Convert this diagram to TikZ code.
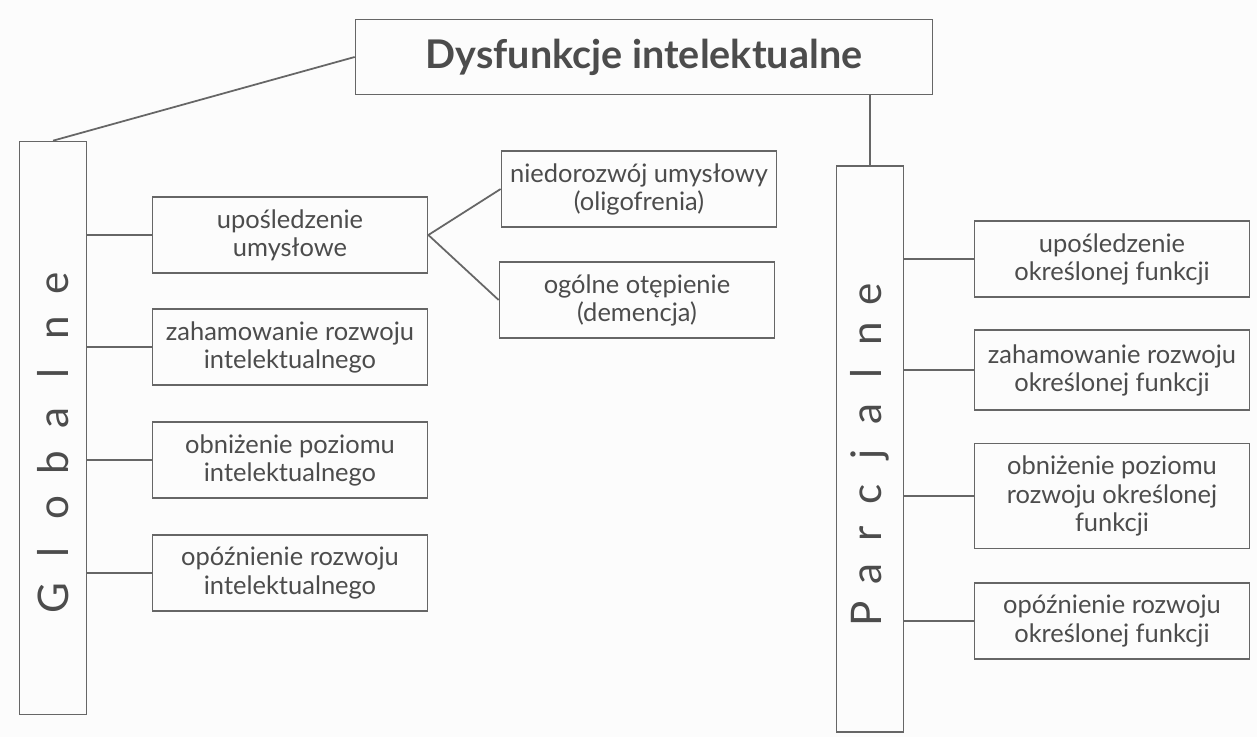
\documentclass[tikz,border=0pt]{standalone}
\usepackage{fontspec}
\setmainfont{Lato}
\begin{document}
\begin{tikzpicture}[x=0.02cm,y=-0.02cm,
  linia/.style={draw=black!60,line width=1pt},
  blok/.style={linia,rectangle,align=center,text=black!70,inner sep=2pt,
    minimum width=5.5cm,minimum height=1.52cm,
    font=\fontsize{14.5}{16}\selectfont},
  pion/.style={linia,rectangle,text=black!70,inner sep=0pt,
    minimum width=1.34cm,font=\fontsize{24}{28}\selectfont}]
\fill[black!1] (0,0) rectangle (1257,737);
% tytul
\node[linia,minimum width=11.54cm,minimum height=1.5cm,text=black!70,
  font=\fontsize{22.5}{26}\selectfont\bfseries] (tytul) at (644,57) {Dysfunkcje intelektualne};
% kolumny
\node[pion,minimum height=11.46cm] (glob) at (53,428)
  {\rotatebox{90}{\foreach \z in {G,l,o,b,a,l,n,e}{\makebox[0.9cm]{\z}}\hspace*{0.5cm}}};
\node[pion,minimum height=11.32cm] (parc) at (870,449)
  {\rotatebox{90}{\foreach \z in {P,a,r,c,j,a,l,n,e}{\makebox[0.8cm]{\z}}\hspace*{0.2cm}}};
% globalne
\node[blok] (l1) at (290,235) {upośledzenie\\umysłowe};
\node[blok] (l2) at (290,347) {zahamowanie rozwoju\\intelektualnego};
\node[blok] (l3) at (290,460) {obniżenie poziomu\\intelektualnego};
\node[blok] (l4) at (290,573) {opóźnienie rozwoju\\intelektualnego};
\node[blok] (m1) at (639,189) {niedorozwój umysłowy\\(oligofrenia)};
\node[blok] (m2) at (637,300) {ogólne otępienie\\(demencja)};
% parcjalne
\node[blok] (p1) at (1112,259) {upośledzenie\\określonej funkcji};
\node[blok,minimum height=1.6cm] (p2) at (1112,370) {zahamowanie rozwoju\\określonej funkcji};
\node[blok,minimum height=2.1cm] (p3) at (1112,496) {obniżenie poziomu\\rozwoju określonej\\funkcji};
\node[blok] (p4) at (1112,621) {opóźnienie rozwoju\\określonej funkcji};
% linie
\draw[linia] (tytul.west) -- (glob.north);
\draw[linia] (tytul.south -| parc.north) -- (parc.north);
\foreach \b in {l1,l2,l3,l4} \draw[linia] (glob.east |- \b.west) -- (\b.west);
\foreach \b in {p1,p2,p3,p4} \draw[linia] (parc.east |- \b.west) -- (\b.west);
\draw[linia] (m1.west) -- (l1.east) -- (m2.west);
\end{tikzpicture}
\end{document}
